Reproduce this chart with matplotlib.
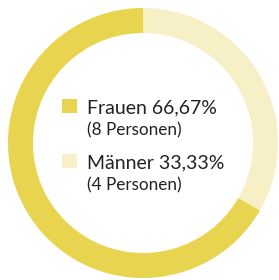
import matplotlib.pyplot as plt
from matplotlib.patches import Rectangle

# data
labels = ["Männer", "Frauen"]
counts = [4, 8]
percents = ["33,33%", "66,67%"]
colors = ["#F7F0C6", "#E8D44E"]

W, H = 279, 280

fig = plt.figure(figsize=(W / 100, H / 100), dpi=100)
ax = fig.add_axes([0, 0, 1, 1])

# ring
ax.pie(counts, colors=colors, startangle=90, counterclock=False,
       radius=135, center=(143, H - 143),
       wedgeprops=dict(width=25, linewidth=0), frame=True)
ax.set_xlim(0, W)
ax.set_ylim(0, H)
ax.set_aspect("equal")
ax.axis("off")

# legend in the middle
rows = [("Frauen", 1, 99), ("Männer", 0, 154)]
for name, i, ytop in rows:
    ax.add_patch(Rectangle((62, H - ytop - 14), 15, 14, color=colors[i], lw=0))
    ax.text(87, H - ytop - 9, f"{name} {percents[i]}", fontsize=14,
            family="Lato", color="#222222", va="center", ha="left")
    ax.text(87, H - ytop - 31, f"({counts[i]} Personen)", fontsize=12.3,
            family="Lato", color="#222222", va="center", ha="left")

fig.savefig("out.png", dpi=100)
